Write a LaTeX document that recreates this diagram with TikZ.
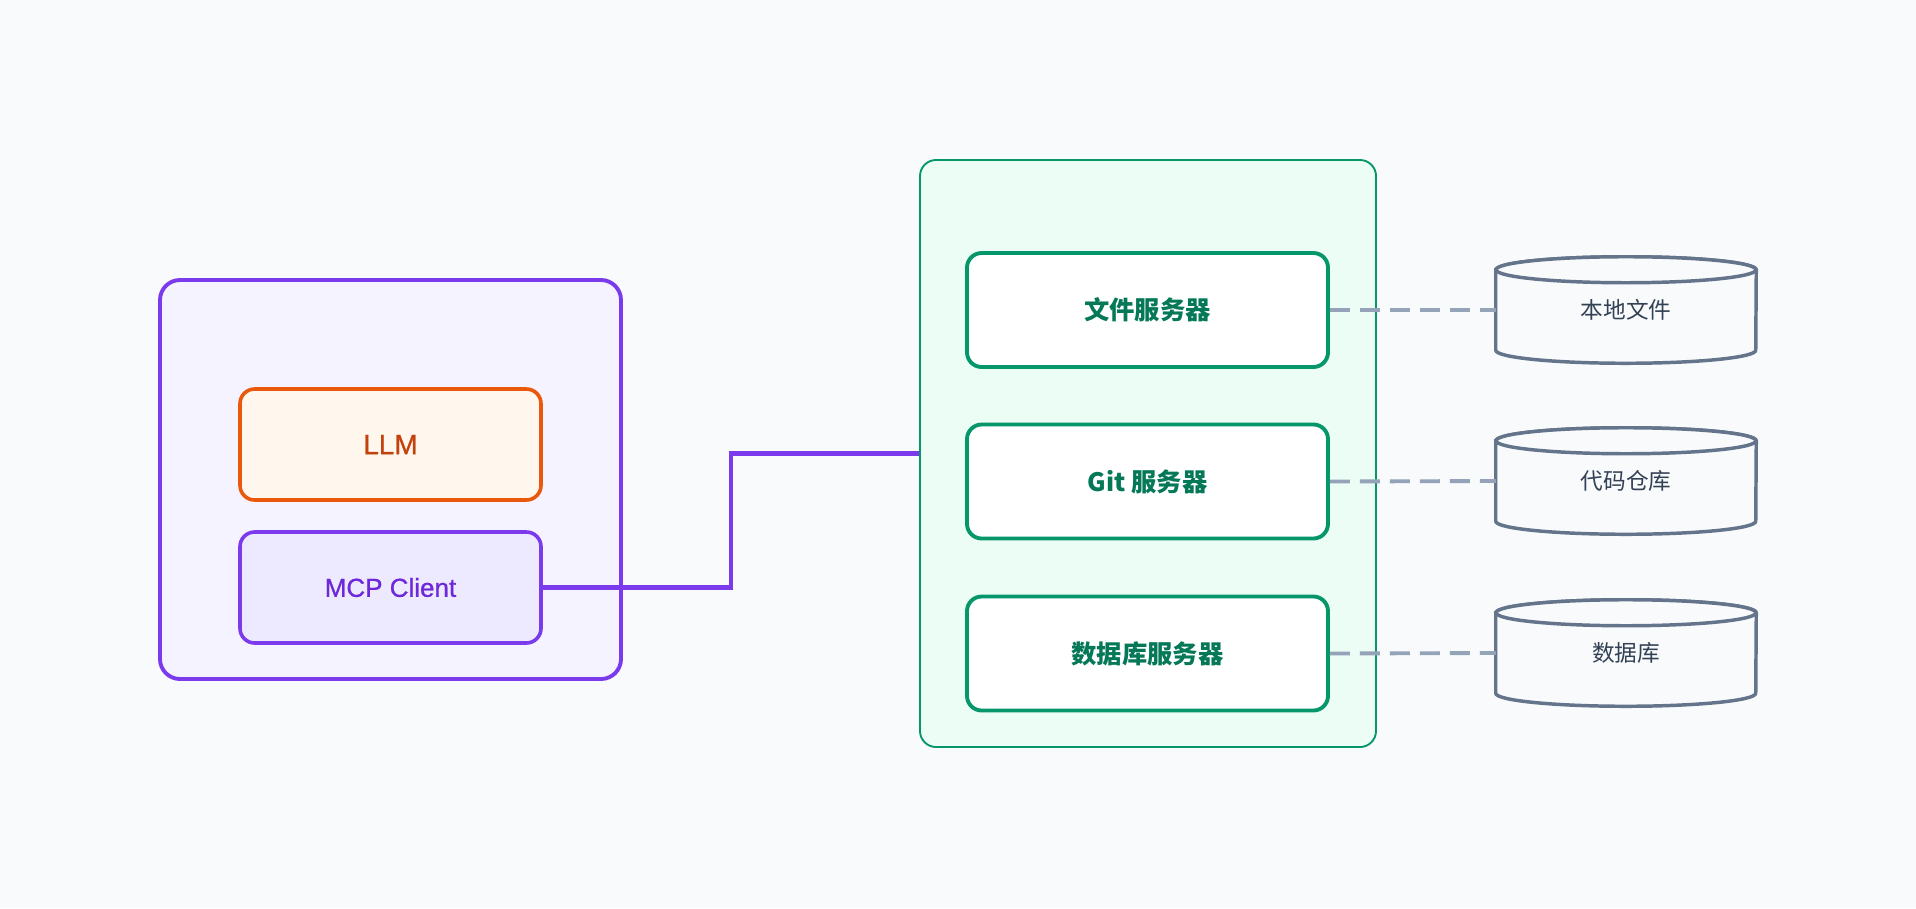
\documentclass[tikz,border=0pt]{standalone}
\usepackage{fontspec}
\setmainfont{Noto Sans CJK SC}
\newfontfamily\medfont[FakeBold=0.8]{Liberation Sans}
\usetikzlibrary{calc}
\definecolor{bgc}{HTML}{F8FAFC}
\definecolor{vstroke}{HTML}{7C3AED}
\definecolor{vfill}{HTML}{F5F3FF}
\definecolor{vfill2}{HTML}{EDE9FE}
\definecolor{vtext}{HTML}{6D28D9}
\definecolor{ostroke}{HTML}{EA580C}
\definecolor{ofill}{HTML}{FFF7ED}
\definecolor{otext}{HTML}{C2410C}
\definecolor{gstroke}{HTML}{059669}
\definecolor{gfill}{HTML}{ECFDF5}
\definecolor{gtext}{HTML}{047857}
\definecolor{sstroke}{HTML}{64748B}
\definecolor{stext}{HTML}{334155}
\definecolor{dline}{HTML}{94A3B8}
\tikzset{
  boxbase/.style={rectangle, inner sep=0pt, align=center},
  clientgroup/.style={boxbase, draw=vstroke, fill=vfill, line width=2.9pt, rounded corners=15pt,
     minimum width=345.75pt, minimum height=299.25pt},
  llmbox/.style={boxbase, draw=ostroke, fill=ofill, line width=2.7pt, rounded corners=11pt,
     minimum width=225.75pt, minimum height=83.25pt, text=otext, font=\medfont\fontsize{21pt}{25pt}\selectfont},
  mcpbox/.style={boxbase, draw=vstroke, fill=vfill2, line width=2.7pt, rounded corners=11pt,
     minimum width=225.75pt, minimum height=83.25pt, text=vtext, font=\medfont\fontsize{19.5pt}{23pt}\selectfont},
  servergroup/.style={boxbase, draw=gstroke, fill=gfill, line width=1.4pt, rounded corners=12pt,
     minimum width=342pt, minimum height=440.25pt},
  serverbox/.style={boxbase, draw=gstroke, fill=white, line width=2.9pt, rounded corners=11pt,
     minimum width=270.75pt, minimum height=85.5pt, text=gtext, font=\fontsize{19pt}{23pt}\selectfont\bfseries},
  storebox/.style={boxbase, minimum width=195pt, minimum height=79.5pt, text=stext,
     font=\fontsize{17pt}{20pt}\selectfont},
  cylline/.style={draw=sstroke, line width=2.6pt, fill=bgc},
  link/.style={draw=vstroke, line width=3.4pt},
  dashlink/.style={draw=dline, line width=2.9pt, dash pattern=on 15pt off 7.5pt},
}
\newcommand{\drawcyl}[1]{%
  \path[cylline] ($(#1.north west)+(0,13)$) -- ($(#1.south west)+(0,-13)$)
    arc[start angle=180, end angle=360, x radius=97.5pt, y radius=9.75pt]
    -- ($(#1.north east)+(0,13)$)
    arc[start angle=0, end angle=180, x radius=97.5pt, y radius=9.75pt] -- cycle;
  \draw[cylline] ($(#1.north)+(0,13)$) ellipse[x radius=97.5pt, y radius=9.75pt];
}
\begin{document}
\begin{tikzpicture}[x=0.75pt,y=-0.75pt]
\fill[bgc] (0,0) rectangle (1916,908);
\useasboundingbox (0,0) rectangle (1916,908);

% client side
\node[clientgroup] (client) at (390.5,479.5) {};
\node[llmbox] (llm) at (390.5,444.5) {LLM};
\node[mcpbox] (mcp) at (390.5,587.5) {MCP Client};

% server side
\node[servergroup] (servers) at (1148,453.5) {};
\node[serverbox] (fs) at (1147.5,310) {文件服务器};
\node[serverbox] (git) at (1147.5,481.5) {Git 服务器};
\node[serverbox] (db) at (1147.5,653.5) {数据库服务器};

% stores
\node[storebox] (s1) at (1626,310) {};
\node[storebox] (s2) at (1626,481) {};
\node[storebox] (s3) at (1626,653) {};
\drawcyl{s1}
\drawcyl{s2}
\drawcyl{s3}
\node[storebox] at (s1) {本地文件};
\node[storebox] at (s2) {代码仓库};
\node[storebox] at (s3) {数据库};

% connectors
\draw[link] (mcp.east) -| ($(mcp.east)!.5!(servers.west)$) |- (servers.west);
\draw[dashlink] (fs.east) -- (s1.west);
\draw[dashlink] (git.east) -- (s2.west);
\draw[dashlink] (db.east) -- (s3.west);
\end{tikzpicture}
\end{document}
